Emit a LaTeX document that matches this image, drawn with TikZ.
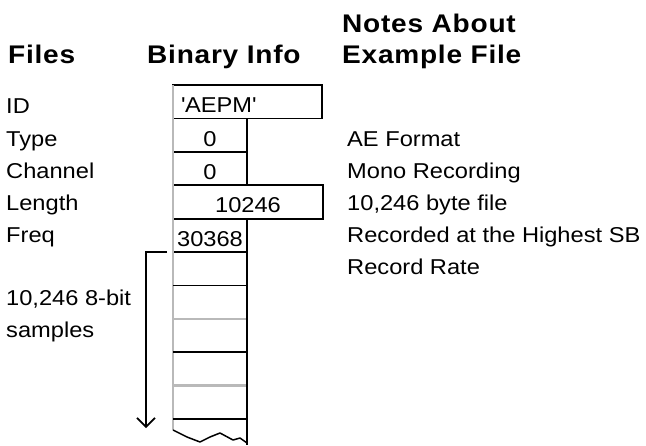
\documentclass[tikz,border=0pt]{standalone}
\usepackage{fontspec}
\setmainfont{Liberation Sans}[FakeStretch=1.10, BoldFeatures={LetterSpace=3}]
\usetikzlibrary{arrows.meta, positioning}

\newcommand{\bodyfont}{\fontsize{21.5}{25}\selectfont}
\newcommand{\headfont}{\fontsize{25.5}{30}\selectfont\bfseries}

\begin{document}
\begin{tikzpicture}[x=1pt, y=-1pt,
    field/.style={draw, line width=1.8pt, anchor=north west, inner sep=0pt, outer sep=0pt,
      minimum height=33.4pt, text height=22pt, text depth=0pt, font=\bodyfont},
    heading/.style={anchor=base west, inner sep=0pt, font=\headfont},
    lbl/.style={anchor=base west, inner sep=0pt, font=\bodyfont},
    softline/.style={gray!55, line width=2.6pt}]
  \def\colL{173}
  \def\rowH{33.4}
  \useasboundingbox (0,0) rectangle (646,445);

  \node[heading] (hfiles) at (8,63) {Files};
  \node[heading] (hbin) at (147,63) {Binary Info};
  \node[heading] (hnotes) at (342,32) {Notes About};
  \node[heading] (hexample) at (342,63) {Example File};

  \node[field, text width=133pt, inner xsep=8pt, align=left] (id) at (\colL,85) {\textquotesingle AEPM\textquotesingle};
  \node[field, minimum width=74pt] (type) at (id.south west) {0};
  \node[field, minimum width=74pt] (chan) at (type.south west) {0};
  \node[field, minimum width=150pt] (len) at (chan.south west) {10246};
  \node[field, minimum width=74pt] (freq) at (len.south west) {30368};

  \node[lbl] (lid) at (6,113) {ID};
  \node[lbl] (ltype) at (6,146) {Type};
  \node[lbl] (lchan) at (6,178) {Channel};
  \node[lbl] (llen) at (6,210) {Length};
  \node[lbl] (lfreq) at (6,242) {Freq};
  \node[lbl] (lsamp) at (6,305) {10,246 8-bit};
  \node[lbl] (lsamp2) at (6,337) {samples};

  \node[lbl] (ntype) at (347,146) {AE Format};
  \node[lbl] (nchan) at (347,178) {Mono Recording};
  \node[lbl] (nlen) at (347,210) {10,246 byte file};
  \node[lbl] (nfreq) at (347,242) {Recorded at the Highest SB};
  \node[lbl] (nfreq2) at (347,274) {Record Rate};

  \begin{scope}[line width=1.8pt]
    \draw[softline] (id.north west) -- ++(0,345);
    \foreach \k/\c in {1/black, 2/softline, 3/black, 4/softline, 5/black}
      \draw[\c] (freq.south west) ++(0,\k*\rowH) -- ++(74,0);
    \draw (freq.south east) -- ++(0,193);
    \draw[line width=1.5pt, line join=round] (173,430) -- (187,437) -- (200,442) -- (210,437)
      -- (220,433) -- (233,440) -- (240,438) -- (247,443);
  \end{scope}

  \coordinate (arrtop) at (167,252);
  \coordinate (arrtip) at (146,428);
  \draw[-{Straight Barb[length=9pt,width=18pt]}, line width=1.6pt] (arrtop) -| (arrtip);
\end{tikzpicture}
\end{document}
